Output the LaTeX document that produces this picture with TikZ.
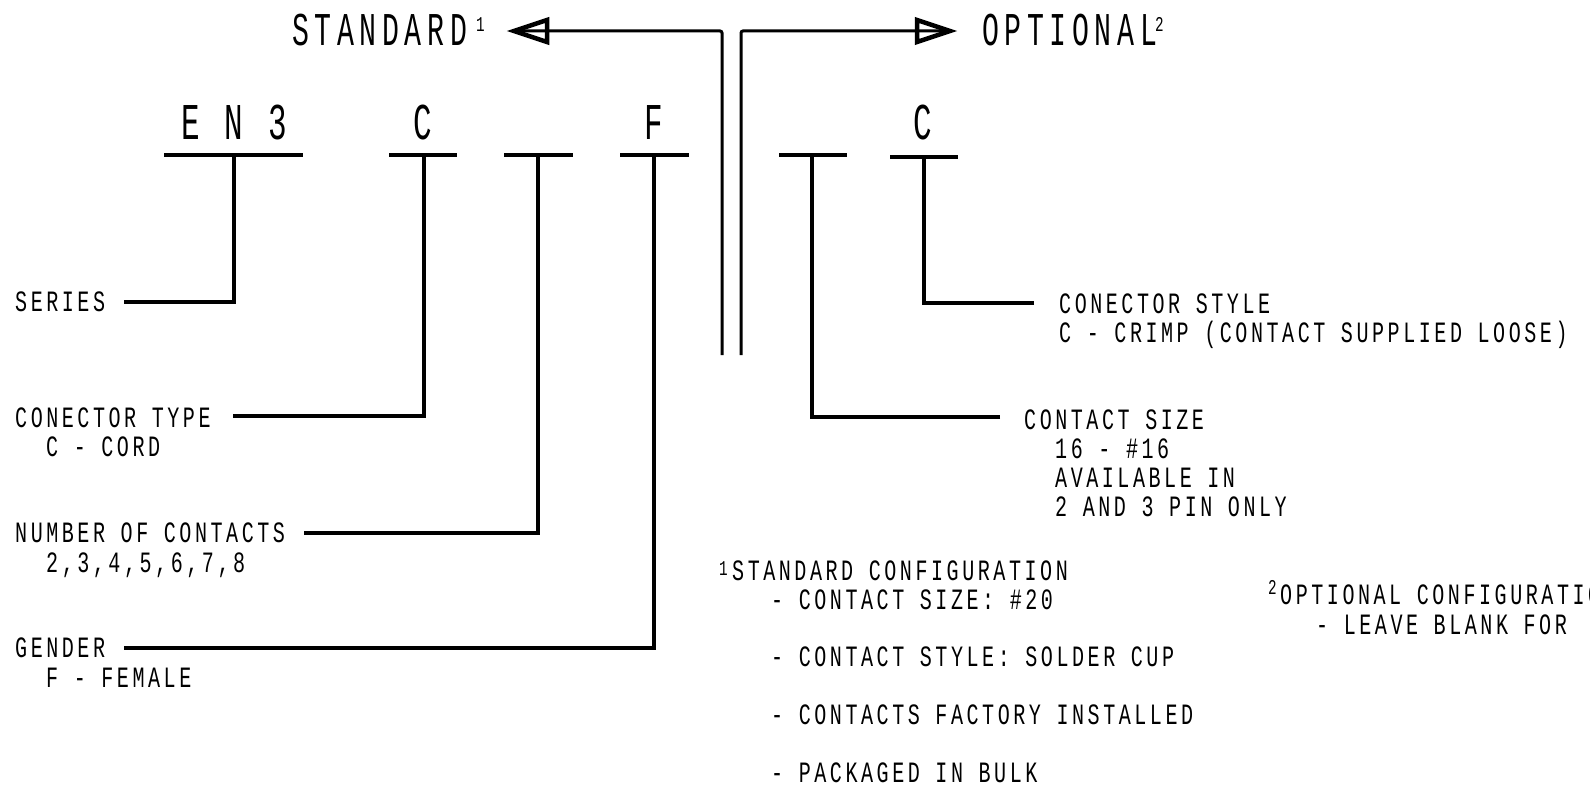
\documentclass[tikz,border=0pt]{standalone}
\usepackage{fontspec}
\setmainfont{Liberation Sans}
\newfontfamily\cadS[FakeStretch=0.68,LetterSpace=12]{Liberation Mono}
\newfontfamily\cadL[FakeStretch=0.6,LetterSpace=12]{Liberation Mono}
\usetikzlibrary{arrows.meta}
\begin{document}
\begin{tikzpicture}[x=1pt,y=-1pt,
  lbl/.style={inner sep=0pt,anchor=base west,font=\cadS\fontsize{29.5}{31}\selectfont},
  big/.style={inner sep=0pt,anchor=base,font=\cadL\fontsize{51.6}{54}\selectfont},
  hdr/.style={inner sep=0pt,anchor=base west,font=\cadL\fontsize{47}{49}\selectfont},
  supr/.style={inner sep=0pt,anchor=north west,font=\cadS\fontsize{21}{22}\selectfont},
  bar/.style={line width=4.5pt},
  lead/.style={line width=3.5pt,line join=miter},
  trunk/.style={line width=3pt,rounded corners=2pt},
  head/.style={line width=4.5pt,line join=miter}]
\fill[white] (0,0) rectangle (1590,786);
\useasboundingbox (0,0) rectangle (1590,786);

% headers
\node[hdr] (std) at (292,46) {STANDARD};
\node[supr] (stdsup) at (476,17) {1};
\node[hdr] (opt) at (982,46) {OPTIONAL};
\node[supr] (optsup) at (1155,17) {2};

% trunk with arrows
\coordinate (aL) at (514,31);
\coordinate (cL) at (722,31);
\coordinate (bL) at (722,355);
\coordinate (aR) at (950,31);
\coordinate (cR) at (741,31);
\coordinate (bR) at (741,355);
\draw[trunk] (aL) -- (cL) -- (bL);
\draw[trunk] (bR) -- (cR) -- (aR);
\draw[head] (aL) -- ++(33,-11) -- ++(0,22) -- cycle;
\draw[head] (aR) -- ++(-33,-11) -- ++(0,22) -- cycle;

% code letters
\node[big] (l1) at (234,140) {E N 3};
\node[big] (l2) at (423,140) {C};
\node[big] (l4) at (654,140) {F};
\node[big] (l6) at (923,140) {C};

% bars
\draw[bar] (164,155) -- (303,155);
\draw[bar] (389,155) -- (457,155);
\draw[bar] (504,155) -- (573,155);
\draw[bar] (620,155) -- (689,155);
\draw[bar] (779,155) -- (847,155);
\draw[bar] (890,157) -- (958,157);

\coordinate (s1) at (234,155);
\coordinate (s2) at (424,155);
\coordinate (s3) at (538,155);
\coordinate (s4) at (654,155);
\coordinate (s5) at (812,155);
\coordinate (s6) at (924,157);

% left labels
\node[lbl] (ser) at (15,312) {SERIES};
\node[lbl] (ct) at (15,427) {CONECTOR TYPE};
\node[lbl] (ct2) at (46,456) {C - CORD};
\node[lbl] (nc) at (15,542) {NUMBER OF CONTACTS};
\node[lbl] (nc2) at (46,572) {2,3,4,5,6,7,8};
\node[lbl] (gd) at (15,657) {GENDER};
\node[lbl] (gd2) at (46,687) {F - FEMALE};

\coordinate (e1) at (124,302);
\coordinate (e2) at (233,416);
\coordinate (e3) at (304,533);
\coordinate (e4) at (124,648);
\draw[lead] (e1) -| (s1);
\draw[lead] (e2) -| (s2);
\draw[lead] (e3) -| (s3);
\draw[lead] (e4) -| (s4);

% right labels
\node[lbl] (cs) at (1059,313) {CONECTOR STYLE};
\node[lbl] (cs2) at (1059,342) {C - CRIMP (CONTACT SUPPLIED LOOSE)};
\node[lbl] (sz) at (1024,429) {CONTACT SIZE};
\node[lbl] (sz2) at (1055,458) {16 - \#16};
\node[lbl] (sz3) at (1055,487) {AVAILABLE IN};
\node[lbl] (sz4) at (1055,516) {2 AND 3 PIN ONLY};

\coordinate (e5) at (1000,417);
\coordinate (e6) at (1034,303);
\draw[lead] (e5) -| (s5);
\draw[lead] (e6) -| (s6);

% footnotes
\node[supr] (f1s) at (719,561) {1};
\node[lbl] (f1) at (732,580) {STANDARD CONFIGURATION};
\node[lbl] (f1a) at (771,609) {- CONTACT SIZE: \#20};
\node[lbl] (f1b) at (771,666) {- CONTACT STYLE: SOLDER CUP};
\node[lbl] (f1c) at (771,724) {- CONTACTS FACTORY INSTALLED};
\node[lbl] (f1d) at (771,782) {- PACKAGED IN BULK};

\node[supr] (f2s) at (1268,580) {2};
\node[lbl] (f2) at (1280,604) {OPTIONAL CONFIGURATION};
\node[lbl] (f2a) at (1316,634) {- LEAVE BLANK FOR};
\end{tikzpicture}
\end{document}
